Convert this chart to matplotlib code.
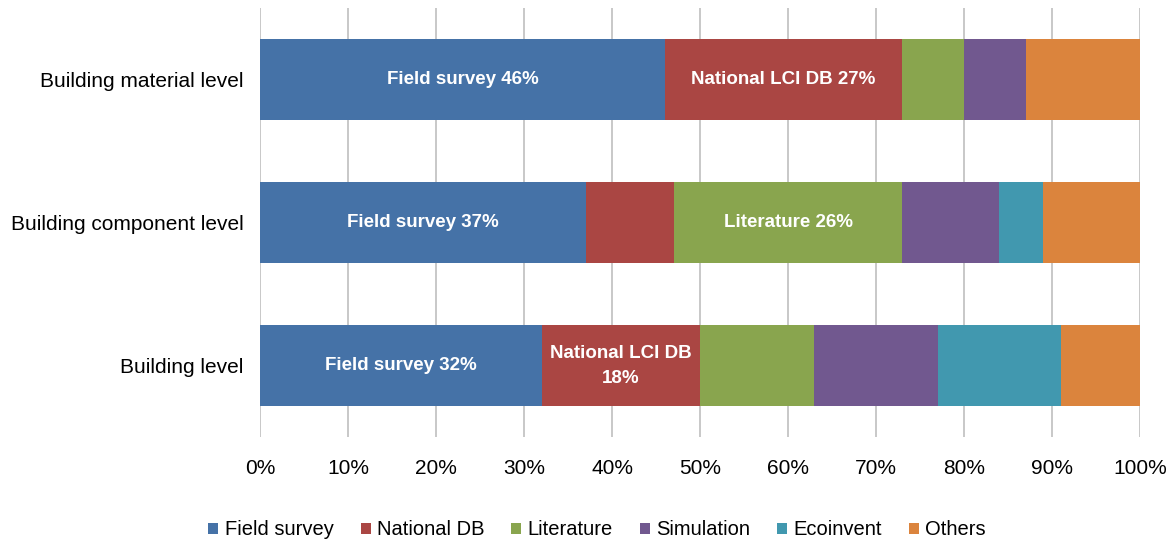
import matplotlib.pyplot as plt
import numpy as np

plt.rcParams['font.family'] = ['Liberation Sans', 'DejaVu Sans']

levels = ['Building level', 'Building component level', 'Building material level']
sources = ['Field survey', 'National DB', 'Literature', 'Simulation', 'Ecoinvent', 'Others']
colors = ['#4572A7', '#AA4643', '#89A54E', '#71588F', '#4198AF', '#DB843D']

# percentages, one list per source, ordered like levels
field_survey = [32, 37, 46]
national_db = [18, 10, 27]
literature = [13, 26, 7]
simulation = [14, 11, 7]
ecoinvent = [14, 5, 0]
others = [9, 11, 13]
shares = [field_survey, national_db, literature, simulation, ecoinvent, others]

# text shown inside some segments: (level index, source index, label)
seg_labels = [
    (2, 0, 'Field survey 46%'), (2, 1, 'National LCI DB 27%'),
    (1, 0, 'Field survey 37%'), (1, 2, 'Literature 26%'),
    (0, 0, 'Field survey 32%'), (0, 1, 'National LCI DB\n18%'),
]

fig = plt.figure(figsize=(11.73, 5.43), dpi=100)
ax = fig.add_axes([0.2217, 0.195, 0.7502, 0.79])

y = np.arange(len(levels))
left = np.zeros(len(levels))
for vals, name, c in zip(shares, sources, colors):
    vals = np.array(vals, dtype=float)
    ax.barh(y, vals, left=left, height=0.57, color=c, label=name, zorder=3)
    left += vals

starts = np.cumsum([[0] * len(levels)] + shares[:-1], axis=0)
for li, si, txt in seg_labels:
    xc = starts[si][li] + shares[si][li] / 2
    ax.text(xc, y[li], txt, ha='center', va='center', color='white',
            fontsize=13.5, fontweight='bold', zorder=4, linespacing=1.6)

ax.set_xlim(0, 100)
ax.set_ylim(-0.5, 2.5)
ax.set_xticks(np.arange(0, 101, 10))
ax.set_xticklabels([f'{v}%' for v in range(0, 101, 10)], fontsize=15)
ax.set_yticks(y)
ax.set_yticklabels(levels, fontsize=15)
ax.tick_params(axis='x', length=0, pad=16)
ax.tick_params(axis='y', length=0, pad=12)
ax.grid(axis='x', color='#bfbfbf', linewidth=1.2, zorder=0)
for s in ax.spines.values():
    s.set_visible(False)

ax.legend(loc='upper center', bbox_to_anchor=(0.383, -0.152), ncol=6, frameon=False,
          fontsize=14.5, handlelength=0.5, handleheight=0.5, handletextpad=0.3,
          columnspacing=1.35)

fig.savefig('out.png', dpi=100)
